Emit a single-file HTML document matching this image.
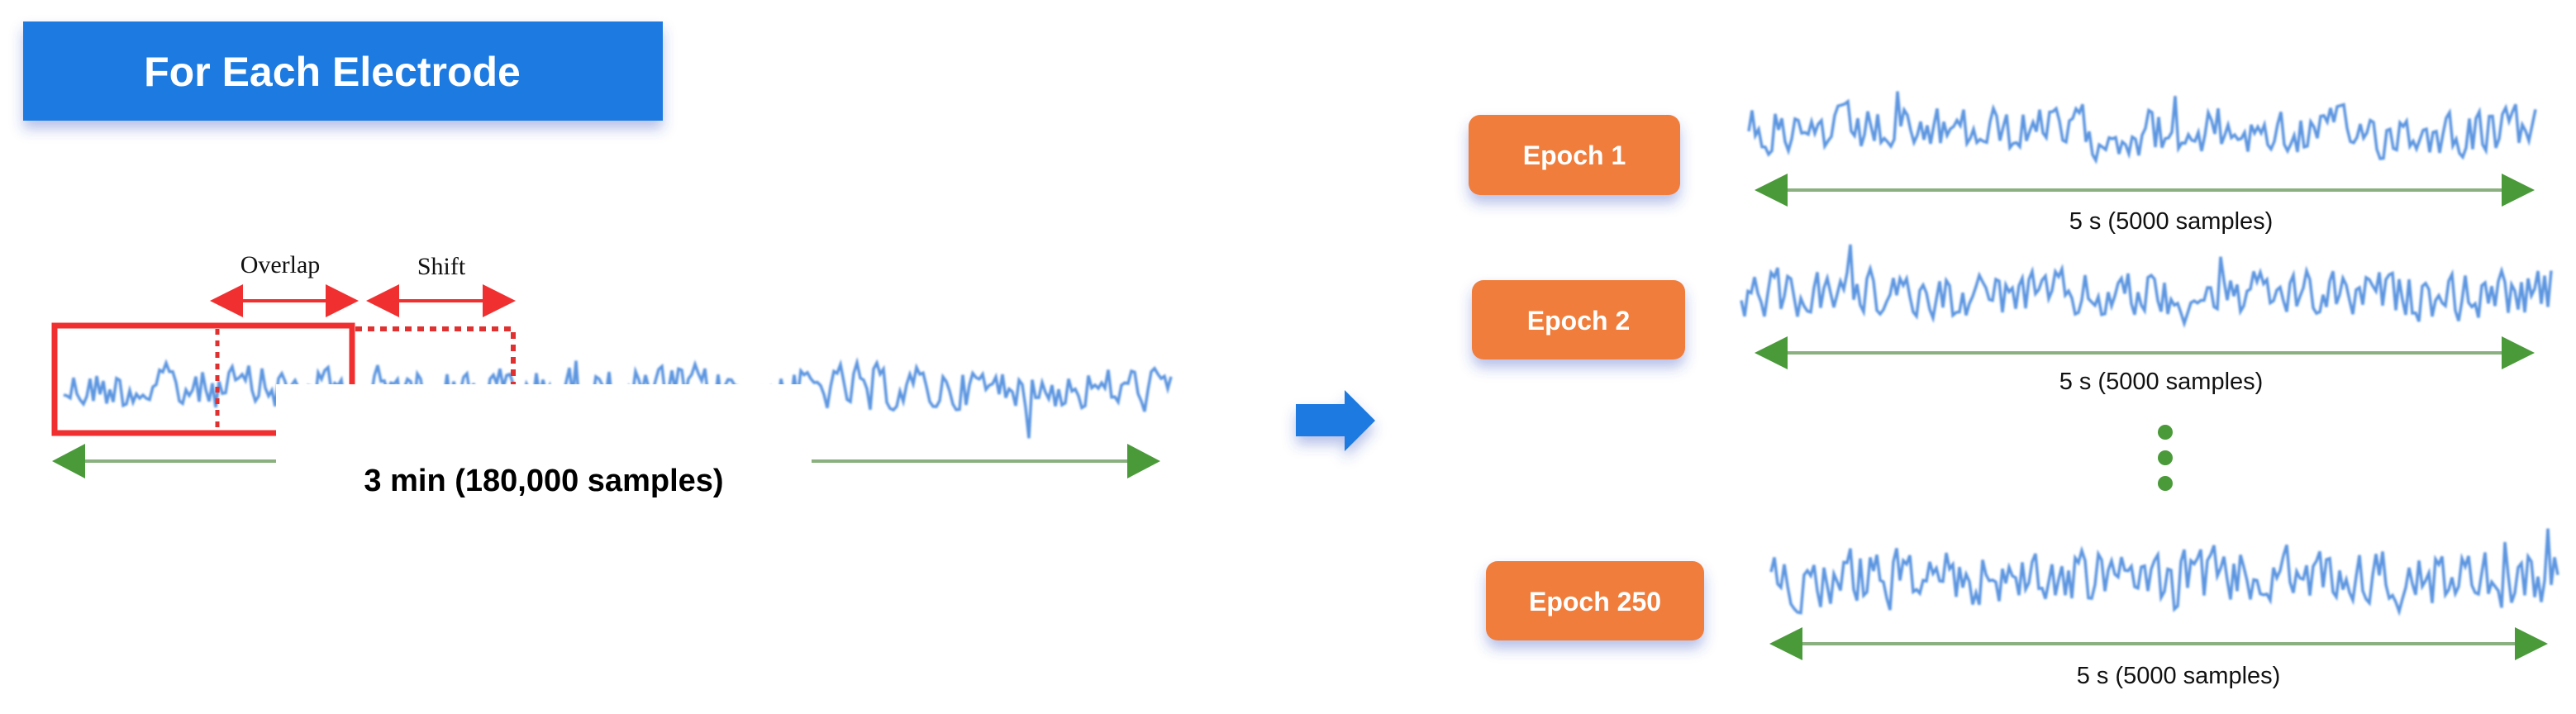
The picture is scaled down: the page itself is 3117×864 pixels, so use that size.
<!DOCTYPE html>
<html><head><meta charset="utf-8"><style>
html,body{margin:0;padding:0;background:#fff;}
body{width:3117px;height:864px;overflow:hidden;position:relative;}
</style></head><body>
<svg width="3117" height="864" viewBox="0 0 3117 864" xmlns="http://www.w3.org/2000/svg" style="position:absolute;left:0;top:0">
<defs>
<filter id="sh" x="-20%" y="-30%" width="140%" height="170%"><feDropShadow dx="0" dy="10" stdDeviation="8" flood-color="#3050c0" flood-opacity="0.35"/></filter>
<filter id="bl"><feGaussianBlur stdDeviation="1"/></filter>
</defs>
<rect x="28" y="26" width="774" height="120" fill="#1a7ae0" filter="url(#sh)"/>
<text x="402" y="104" font-family="Liberation Sans, sans-serif" font-weight="bold" font-size="50" fill="#fff" text-anchor="middle">For Each Electrode</text>

<g id="sigs" stroke="#5b95e0" stroke-width="3.5" fill="none" filter="url(#bl)"></g>

<rect x="66" y="394" width="360" height="130" fill="none" stroke="#f03030" stroke-width="7"/>
<line x1="263" y1="398" x2="263" y2="524" stroke="#e03030" stroke-width="5" stroke-dasharray="7,7"/>
<path d="M430 398 H621 V470" fill="none" stroke="#e03030" stroke-width="6" stroke-dasharray="8,7"/>
<text x="339" y="330" font-family="Liberation Serif, serif" font-size="30" fill="#111" text-anchor="middle">Overlap</text>
<text x="534" y="332" font-family="Liberation Serif, serif" font-size="30" fill="#111" text-anchor="middle">Shift</text>
<g fill="#f03030" stroke="#f03030">
<line x1="280" y1="364" x2="410" y2="364" stroke-width="4"/>
<polygon points="254,364 294,344 294,384" stroke="none"/>
<polygon points="434,364 394,344 394,384" stroke="none"/>
<line x1="470" y1="364" x2="600" y2="364" stroke-width="4"/>
<polygon points="443,364 483,344 483,384" stroke="none"/>
<polygon points="624,364 584,344 584,384" stroke="none"/>
</g>
<g fill="#4a9a3a">
<line x1="90" y1="558" x2="1380" y2="558" stroke="#8ab080" stroke-width="4"/>
<polygon points="63,558 103,537 103,579"/>
<polygon points="1404,558 1364,537 1364,579"/>
</g>
<rect x="334" y="465" width="648" height="190" fill="#fff"/>
<text x="658" y="594" font-family="Liberation Sans, sans-serif" font-weight="bold" font-size="38" fill="#000" text-anchor="middle">3 min (180,000 samples)</text>

<polygon points="1568,489 1627,489 1627,472 1664,509 1627,546 1627,528 1568,528" fill="#1a7ae0" filter="url(#sh)"/>

<g font-family="Liberation Sans, sans-serif" font-weight="bold" font-size="32" fill="#fff" text-anchor="middle">
<rect x="1777" y="139" width="256" height="97" rx="14" fill="#f07d3a" filter="url(#sh)"/>
<text x="1905" y="199">Epoch 1</text>
<rect x="1781" y="339" width="258" height="96" rx="14" fill="#f07d3a" filter="url(#sh)"/>
<text x="1910" y="399">Epoch 2</text>
<rect x="1798" y="679" width="264" height="96" rx="14" fill="#f07d3a" filter="url(#sh)"/>
<text x="1930" y="739">Epoch 250</text>
</g>
<g fill="#4a9a3a">
<line x1="2145" y1="230" x2="3045" y2="230" stroke="#8ab080" stroke-width="4"/>
<polygon points="2123,230 2163,210 2163,250"/><polygon points="3067,230 3027,210 3027,250"/>
<line x1="2145" y1="427" x2="3045" y2="427" stroke="#8ab080" stroke-width="4"/>
<polygon points="2123,427 2163,407 2163,447"/><polygon points="3067,427 3027,407 3027,447"/>
<line x1="2163" y1="779" x2="3060" y2="779" stroke="#8ab080" stroke-width="4"/>
<polygon points="2141,779 2181,759 2181,799"/><polygon points="3083,779 3043,759 3043,799"/>
<circle cx="2620" cy="523" r="9"/><circle cx="2620" cy="554" r="9"/><circle cx="2620" cy="585" r="9"/>
</g>
<g font-family="Liberation Sans, sans-serif" font-size="29" fill="#111" text-anchor="middle">
<text x="2627" y="277">5 s (5000 samples)</text>
<text x="2615" y="471">5 s (5000 samples)</text>
<text x="2636" y="827">5 s (5000 samples)</text>
</g>
</svg>
<script>
(function(){
var s=12345;function r(){s=(s*1103515245+12345)%2147483648;return s/2147483648;}
function sig(x0,x1,yc,amp,step){var p=[],y=0;for(var x=x0;x<=x1;x+=step){y=0.3*y+(r()-0.5)*amp;var sp=r()<0.04?(r()-0.5)*amp*1.4:0;p.push(x.toFixed(1)+","+(yc+y+sp).toFixed(1));}return p.join(" ");}
var g=document.getElementById("sigs");
function add(pts){var e=document.createElementNS("http://www.w3.org/2000/svg","polyline");e.setAttribute("points",pts);g.appendChild(e);}
add(sig(77,1418,470,50,4));
add(sig(2116,3070,160,55,4));
add(sig(2107,3088,358,55,4));
add(sig(2143,3097,699,65,4));
})();
</script>
</body></html>
